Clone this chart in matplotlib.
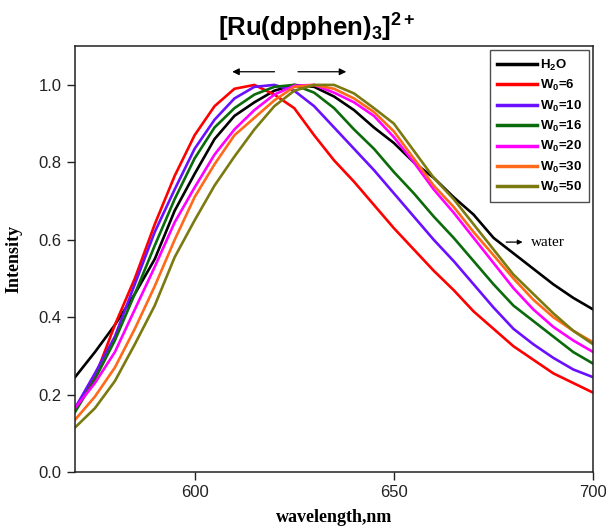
import numpy as np
import matplotlib
matplotlib.use("Agg")
import matplotlib.pyplot as plt

plt.rcParams['font.family'] = ['Liberation Sans', 'DejaVu Sans']
plt.rcParams['mathtext.fontset'] = 'custom'
plt.rcParams['mathtext.rm'] = 'Liberation Sans'
plt.rcParams['mathtext.bf'] = 'Liberation Sans:bold'
plt.rcParams['mathtext.it'] = 'Liberation Sans:italic'

wavelength = [570, 575, 580, 585, 590, 595, 600, 605, 610, 615, 620, 625, 630, 635,
              640, 645, 650, 655, 660, 665, 670, 675, 680, 685, 690, 695, 700]

h2o = [0.245, 0.31, 0.38, 0.46, 0.55, 0.675, 0.77, 0.86, 0.92, 0.955, 0.985, 1.0, 0.995, 0.97,
       0.935, 0.89, 0.85, 0.80, 0.76, 0.71, 0.665, 0.605, 0.565, 0.525, 0.485, 0.45, 0.42]
w6 = [0.165, 0.245, 0.38, 0.50, 0.64, 0.765, 0.87, 0.945, 0.99, 1.0, 0.975, 0.94, 0.87, 0.805,
      0.75, 0.69, 0.63, 0.575, 0.52, 0.47, 0.415, 0.37, 0.325, 0.29, 0.255, 0.23, 0.205]
w10 = [0.165, 0.255, 0.35, 0.485, 0.62, 0.73, 0.835, 0.91, 0.965, 0.995, 1.0, 0.985, 0.945, 0.89,
       0.835, 0.78, 0.72, 0.66, 0.60, 0.545, 0.485, 0.425, 0.37, 0.33, 0.295, 0.265, 0.245]
w16 = [0.155, 0.24, 0.34, 0.46, 0.585, 0.705, 0.81, 0.89, 0.94, 0.975, 0.995, 1.0, 0.98, 0.94,
       0.885, 0.835, 0.775, 0.72, 0.66, 0.605, 0.545, 0.485, 0.43, 0.39, 0.35, 0.31, 0.28]
w20 = [0.165, 0.23, 0.31, 0.42, 0.53, 0.645, 0.735, 0.82, 0.885, 0.935, 0.975, 0.998, 1.0, 0.98,
       0.955, 0.92, 0.865, 0.80, 0.73, 0.67, 0.605, 0.54, 0.475, 0.42, 0.375, 0.34, 0.31]
w30 = [0.135, 0.195, 0.27, 0.37, 0.48, 0.60, 0.71, 0.795, 0.87, 0.915, 0.96, 0.995, 1.0, 0.99,
       0.965, 0.93, 0.88, 0.81, 0.74, 0.685, 0.62, 0.56, 0.50, 0.445, 0.40, 0.365, 0.335]
w50 = [0.115, 0.165, 0.235, 0.33, 0.43, 0.555, 0.65, 0.74, 0.815, 0.885, 0.945, 0.985, 1.0, 1.0,
       0.978, 0.94, 0.90, 0.83, 0.76, 0.705, 0.64, 0.575, 0.51, 0.46, 0.41, 0.365, 0.33]

labels = [r'H$_\mathbf{2}$O', r'W$_\mathbf{0}$=6', r'W$_\mathbf{0}$=10', r'W$_\mathbf{0}$=16',
          r'W$_\mathbf{0}$=20', r'W$_\mathbf{0}$=30', r'W$_\mathbf{0}$=50']
series = [h2o, w6, w10, w16, w20, w30, w50]
colors = ['#000000', '#ff0000', '#6a10ff', '#0b6b0b', '#ff00ff', '#ff6a1a', '#7a7a10']

xticks = [600, 650, 700]
yticks = [0.0, 0.2, 0.4, 0.6, 0.8, 1.0]

fig = plt.figure(figsize=(6.06, 5.31), dpi=100)
ax = fig.add_axes([0.1238, 0.111, 0.855, 0.802])

for y, c, lab in zip(series, colors, labels):
    ax.plot(wavelength, y, color=c, lw=1.9, label=lab)

ax.set_xlim(570, 700)
ax.set_ylim(0, 1.1)
ax.set_xticks(xticks)
ax.set_yticks(yticks)
ax.set_yticklabels([f'{v:.1f}' for v in yticks])
ax.tick_params(direction='out', length=6, width=1.0, labelsize=12, colors='#222222')
for s in ax.spines.values():
    s.set_linewidth(1.1)
    s.set_color('#222222')

ax.set_xlabel('wavelength,nm', family='Liberation Serif', fontweight='bold', fontsize=13, labelpad=6)
ax.set_ylabel('Intensity', family='Liberation Serif', fontweight='bold', fontsize=13, labelpad=12)

fig.text(218 / 606, 1 - 37 / 531, r'[Ru(dpphen)$_\mathbf{3}$]$^\mathbf{2+}$', fontsize=18.5,
         fontweight='bold', ha='left', va='baseline')

leg = ax.legend(loc='upper right', bbox_to_anchor=(0.992, 0.99), borderaxespad=0, frameon=True,
                fancybox=False, edgecolor='#222222', prop={'weight': 'bold', 'size': 9.5},
                handlelength=3.0, handletextpad=0.2, labelspacing=0.4, borderpad=0.55)
leg.get_frame().set_linewidth(1.0)
for line in leg.get_lines():
    line.set_linewidth(2.5)

arrow = dict(arrowstyle='-|>', color='black', lw=0.9, mutation_scale=10)
ax.annotate('', xy=(608.75, 1.034), xytext=(620.75, 1.034), arrowprops=arrow)
ax.annotate('', xy=(638.75, 1.034), xytext=(625.25, 1.034), arrowprops=arrow)
ax.annotate('', xy=(683.0, 0.594), xytext=(677.5, 0.594),
            arrowprops=dict(arrowstyle='-|>', color='black', lw=0.9, mutation_scale=7))
ax.text(684.5, 0.594, 'water', family='Liberation Serif', fontsize=11, va='center', ha='left')

fig.savefig('out.png', dpi=100)
